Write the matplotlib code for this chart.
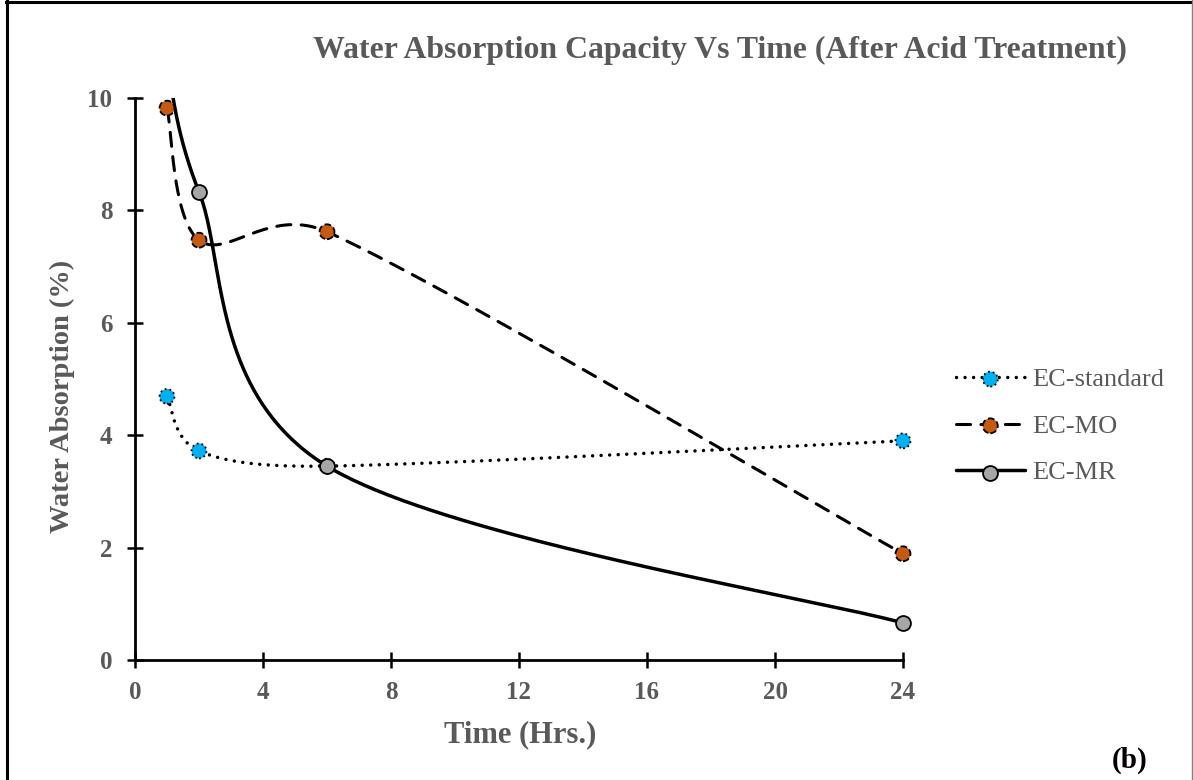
import numpy as np
import matplotlib
matplotlib.use("Agg")
import matplotlib.pyplot as plt
from matplotlib.lines import Line2D
from matplotlib.patches import Rectangle

# Water absorption (%) after acid treatment, by soaking time (hours)
time_hrs = [1, 2, 6, 24]
ec_standard = [4.69, 3.72, 3.45, 3.90]
ec_mo = [9.82, 7.47, 7.62, 1.89]
ec_mr = [10.6, 8.33, 3.45, 0.66]
series_names = ["EC-standard", "EC-MO", "EC-MR"]
x_ticks = [0, 4, 8, 12, 16, 20, 24]
y_ticks = [0, 2, 4, 6, 8, 10]

TEXT = "#595959"
SERIF = "Liberation Serif"
plt.rcParams["font.family"] = [SERIF, "DejaVu Serif"]

W, H = 1193, 780
fig = plt.figure(figsize=(W / 100, H / 100), dpi=100)
ax = fig.add_axes([135 / W, 1 - 660 / H, (903 - 135) / W, (660 - 98) / H])
ax.set_xlim(0, 24)
ax.set_ylim(0, 10)


def smooth_curve(ax, xs, ys, samples=80):
    """Spreadsheet-style smoothed line: cubic Bezier segments built in
    display space, tangents parallel to neighbour chords, handles capped."""
    P = ax.transData.transform(np.column_stack([xs, ys]))
    n = len(P)
    out = []
    t = np.linspace(0, 1, samples)[:, None]
    for i in range(n - 1):
        p0 = P[i - 1] if i > 0 else P[i]
        p1, p2 = P[i], P[i + 1]
        p3 = P[i + 2] if i + 2 < n else P[i + 1]
        d02 = np.linalg.norm(p2 - p0)
        d12 = np.linalg.norm(p2 - p1)
        d13 = np.linalg.norm(p3 - p1)
        f0 = min(1 / 6, d12 / (2 * d02)) if d02 > 0 else 0
        f3 = min(1 / 6, d12 / (2 * d13)) if d13 > 0 else 0
        c1 = p1 + (p2 - p0) * f0
        c2 = p2 - (p3 - p1) * f3
        seg = ((1 - t) ** 3) * p1 + 3 * ((1 - t) ** 2) * t * c1 \
            + 3 * (1 - t) * t ** 2 * c2 + t ** 3 * p2
        out.append(seg if i == 0 else seg[1:])
    pts = ax.transData.inverted().transform(np.vstack(out))
    return pts[:, 0], pts[:, 1]


styles = [
    dict(y=ec_standard, face="#00B0F0", lw=2.5, ls=(0, (0.01, 2.45)), mls=":"),
    dict(y=ec_mo, face="#C55A11", lw=2.2, ls=(0, (4.6, 3.4)), mls="--"),
    dict(y=ec_mr, face="#A6A6A6", lw=2.5, ls="-", mls="-"),
]

# markers may spill past the sides/bottom of the plot but not past its top
marker_clip = Rectangle((-0.05, -0.05), 1.1, 1.05, transform=ax.transAxes,
                        visible=False)
ax.add_patch(marker_clip)

handles = []
for st in styles:
    sx, sy = smooth_curve(ax, time_hrs, st["y"])
    ln, = ax.plot(sx, sy, color="black", lw=st["lw"], linestyle=st["ls"],
                  dash_capstyle="round", solid_capstyle="round", zorder=2)
    sc = ax.scatter(time_hrs, st["y"], s=115, c=st["face"], edgecolors="black",
                    linewidths=1.3, linestyle=st["mls"], zorder=3)
    sc.set_clip_path(marker_clip)
    handles.append((ln, sc))

# axes styling
for side in ("top", "right"):
    ax.spines[side].set_visible(False)
for side in ("left", "bottom"):
    ax.spines[side].set_linewidth(2.0)
    ax.spines[side].set_color("black")
ax.set_xticks(x_ticks)
ax.set_yticks(y_ticks)
ax.tick_params(direction="inout", length=11.5, width=1.8, color="black",
               labelsize=18, labelcolor=TEXT)
ax.tick_params(axis="y", pad=10.5)
ax.tick_params(axis="x", pad=9.5)
for lab in ax.get_xticklabels() + ax.get_yticklabels():
    lab.set_fontweight("bold")

fig.text(720 / W, 1 - 50 / H,
         "Water Absorption Capacity Vs Time (After Acid Treatment)",
         ha="center", va="center", fontsize=22.9, fontweight="bold", color=TEXT)
fig.text(520 / W, 1 - 735 / H, "Time (Hrs.)", ha="center", va="center",
         fontsize=22, fontweight="bold", color=TEXT)
fig.text(62 / W, 1 - 396 / H, "Water Absorption (%)", ha="center", va="center",
         rotation=90, fontsize=20.5, fontweight="bold", color=TEXT)
fig.text(1130 / W, 1 - 760 / H, "(b)", ha="center", va="center",
         fontsize=21, fontweight="bold", color="black")

leg = fig.legend(handles, series_names, loc="center left",
                 bbox_to_anchor=(956 / W, 1 - 426 / H), frameon=False,
                 scatterpoints=1, handlelength=2.6, handletextpad=0.28,
                 labelspacing=0.88, borderpad=0, borderaxespad=0,
                 prop={"family": SERIF, "size": 19})
for txt in leg.get_texts():
    txt.set_color(TEXT)

# frame around the figure
fig.add_artist(Line2D([7.5 / W, 7.5 / W], [0, 1], transform=fig.transFigure,
                      color="black", lw=2.2))
fig.add_artist(Line2D([6 / W, 1], [1 - 1.5 / H, 1 - 1.5 / H],
                      transform=fig.transFigure, color="black", lw=2.2))
fig.add_artist(Line2D([1 - 1.5 / W, 1 - 1.5 / W], [0, 1],
                      transform=fig.transFigure, color="#808080", lw=1.0))

fig.savefig("out.png", dpi=100)
